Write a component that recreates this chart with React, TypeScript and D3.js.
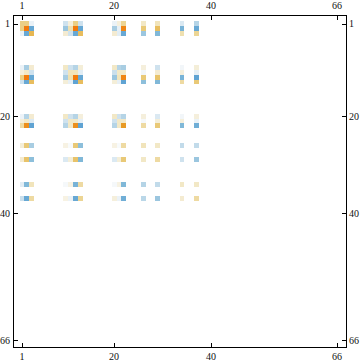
import React from "react";
import * as d3 from "d3";

const rowIndex = [1, 2, 3, 10, 11, 12, 13, 20, 21, 22, 26, 29, 34, 37];
const colIndex = [1, 2, 3, 10, 11, 12, 13, 20, 21, 22, 26, 29, 34, 37];
const tickValues = [1, 20, 40, 66];
const matrix = [
  [.45, .45, -.08, -.2, .1, .45, -.2, -.08, .1, .4, .2, .25, -.15, -.3],
  [.45, 1, -.65, -.4, .3, 1, -.65, -.35, -.1, .95, .5, .6, -.55, -.65],
  [-.08, -.65, .65, .15, -.2, -.65, .6, .15, -.12, -.65, -.4, -.5, .3, .4],
  [-.08, -.35, .15, .2, -.2, -.3, .12, .2, -.3, -.35, .1, -.2, -.05, .12],
  [.1, .2, -.2, -.2, .25, .25, -.12, -.22, .2, .2, -.05, .15, .1, -.1],
  [.45, 1, -.65, -.35, .3, 1, -.65, -.4, .25, .95, .5, .55, -.55, -.7],
  [-.2, -.65, .6, .12, -.1, -.7, .6, .12, -.1, -.7, -.45, -.5, .35, .5],
  [-.07, -.3, .15, .2, -.2, -.3, .1, .2, -.2, -.3, .1, -.15, -.05, .1],
  [.1, .2, -.15, -.2, .2, .2, -.1, -.2, .2, .2, -.04, .12, .1, -.08],
  [.35, .9, -.7, -.3, .2, .9, -.7, -.3, .2, .85, .35, .5, -.5, -.6],
  [.12, .5, -.35, .08, -.03, .5, -.45, .08, -.03, .35, .25, .2, -.25, -.25],
  [.15, .55, -.45, -.15, .12, .55, -.5, -.15, .12, .5, .2, .35, -.2, -.4],
  [-.12, -.5, .25, -.04, .08, -.55, .35, -.04, .08, -.5, -.3, -.25, .2, .2],
  [-.22, -.65, .35, .08, -.08, -.65, .4, .1, -.08, -.6, -.28, -.4, .15, .35],
];

const colorStops = [-1, -.7, -.5, -.35, -.2, -.05, 0, .1, .3, .5, .8, 1];
const colorValues = ["#3f8fc8", "#5fa3d3", "#80b8d8", "#a8cde2", "#cfe2ee", "#f2f6f9", "#ffffff", "#f5efdc", "#efe0b0", "#e9c977", "#e5a42c", "#f27a0c"];

export default function App() {
  const x = d3.scaleLinear().domain([1, 66]).range([22, 337]);
  const y = d3.scaleLinear().domain([1, 66]).range([23.6, 340]);
  const color = d3.scaleLinear<string>().domain(colorStops).range(colorValues);
  const frame = { l: 13.5, r: 346.5, t: 15.5, b: 347.5 };
  const font = { fontFamily: "Liberation Serif", fontSize: 10, fill: "#111" };
  return (
    <svg width={360} height={363} style={{ position: "absolute", left: 0, top: 0, background: "#fff" }}>
      <g shapeRendering="crispEdges">
        {matrix.map((row, i) =>
          row.map((v, j) => {
            const x0 = x(colIndex[j] - 0.5), x1 = x(colIndex[j] + 0.5);
            const y0 = y(rowIndex[i] - 0.5), y1 = y(rowIndex[i] + 0.5);
            return <rect key={`${i}-${j}`} x={x0} y={y0} width={x1 - x0} height={y1 - y0} fill={color(v)} />;
          })
        )}
      </g>
      <rect x={frame.l} y={frame.t} width={frame.r - frame.l} height={frame.b - frame.t} fill="none" stroke="#000" strokeWidth={1} />
      {tickValues.map((t) => (
        <g key={t}>
          <line x1={Math.round(x(t)) + .5} x2={Math.round(x(t)) + .5} y1={frame.t} y2={frame.t + 4.5} stroke="#000" />
          <line x1={Math.round(x(t)) + .5} x2={Math.round(x(t)) + .5} y1={frame.b} y2={frame.b - 4.5} stroke="#000" />
          <line y1={Math.round(y(t)) + .5} y2={Math.round(y(t)) + .5} x1={frame.l} x2={frame.l + 4.5} stroke="#000" />
          <line y1={Math.round(y(t)) + .5} y2={Math.round(y(t)) + .5} x1={frame.r} x2={frame.r - 4.5} stroke="#000" />
          <text x={x(t)} y={9} textAnchor="middle" {...font}>{t}</text>
          <text x={x(t)} y={360} textAnchor="middle" {...font}>{t}</text>
          <text x={10} y={y(t) + 3.5} textAnchor="end" {...font}>{t}</text>
          <text x={349} y={y(t) + 3.5} textAnchor="start" {...font}>{t}</text>
        </g>
      ))}
    </svg>
  );
}
